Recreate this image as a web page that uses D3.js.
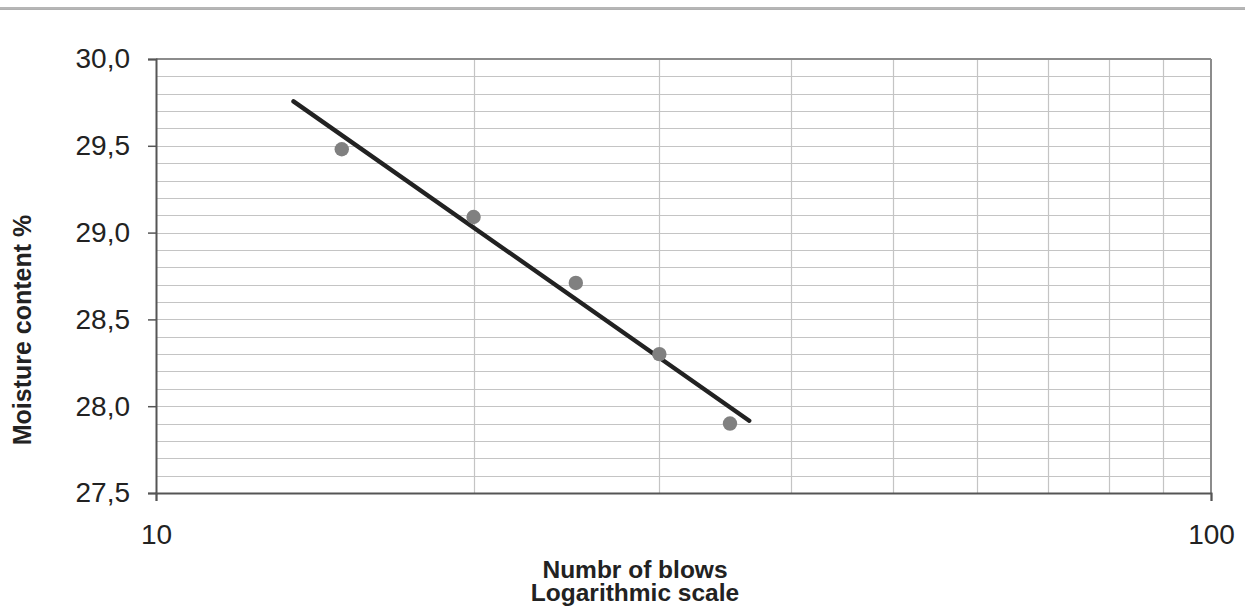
<!DOCTYPE html>
<html>
<head>
<meta charset="utf-8">
<script src="https://cdn.jsdelivr.net/npm/d3@7"></script>
<style>
  html, body { margin: 0; padding: 0; background: #fff; }
  svg { display: block; font-family: "Liberation Sans", Arial, sans-serif; }
</style>
</head>
<body>
<svg id="chart" width="1245" height="608"></svg>
<script>
// Liquid limit test: number of blows vs moisture content
const blows = [15, 20, 25, 30, 35];
const moisture = [29.48, 29.09, 28.71, 28.30, 27.90];
const trendRange = [13.5, 36.5];         // extent of the fitted line (blows)
const xTickLabels = [10, 100];
const yTickValues = [27.5, 28.0, 28.5, 29.0, 29.5, 30.0];
const xTitleLines = ["Numbr of blows", "Logarithmic scale"];
const yTitle = "Moisture content %";

const W = 1245, H = 608;
const margin = { left: 156, top: 59, right: W - 1211, bottom: H - 493 };

const svg = d3.select("#chart");

const x = d3.scaleLog().domain([10, 100]).range([margin.left, W - margin.right]);
const y = d3.scaleLinear().domain([27.5, 30.0]).range([H - margin.bottom, margin.top]);

const fmt = v => d3.format(".1f")(v).replace(".", ",");

// thin double rule across the top of the page
svg.append("line")
  .attr("x1", 0).attr("x2", W).attr("y1", 8).attr("y2", 8)
  .attr("stroke", "#6e6e6e").attr("stroke-width", 1.2);
svg.append("line")
  .attr("x1", 0).attr("x2", W).attr("y1", 9.5).attr("y2", 9.5)
  .attr("stroke", "#b0b0b0").attr("stroke-width", 1);

// horizontal gridlines every 0.1
const hGrid = d3.range(27.6, 30.001, 0.1).map(v => +v.toFixed(1));
svg.append("g").selectAll("line").data(hGrid).join("line")
  .attr("x1", x(10)).attr("x2", x(100))
  .attr("y1", d => Math.round(y(d)) + 0.5).attr("y2", d => Math.round(y(d)) + 0.5)
  .attr("stroke", "#c4c4c4").attr("stroke-width", 1.2);

// vertical gridlines at 20..90
const vGrid = d3.range(20, 100, 10);
svg.append("g").selectAll("line").data(vGrid).join("line")
  .attr("x1", d => Math.round(x(d)) + 0.5).attr("x2", d => Math.round(x(d)) + 0.5)
  .attr("y1", y(30)).attr("y2", y(27.5))
  .attr("stroke", "#c4c4c4").attr("stroke-width", 1.2);

// plot frame: top and right in lighter grey
svg.append("line")
  .attr("x1", x(10)).attr("x2", x(100)).attr("y1", y(30)).attr("y2", y(30))
  .attr("stroke", "#8c8c8c").attr("stroke-width", 2);
svg.append("line")
  .attr("x1", x(100)).attr("x2", x(100)).attr("y1", y(30)).attr("y2", y(27.5))
  .attr("stroke", "#8c8c8c").attr("stroke-width", 2);

// y axis
const yAxis = d3.axisLeft(y).tickValues(yTickValues).tickFormat(fmt).tickSize(8).tickPadding(18);
const gy = svg.append("g").attr("transform", `translate(${x(10)},0)`).call(yAxis);
gy.select(".domain").attr("stroke", "#555").attr("stroke-width", 2);
gy.selectAll(".tick line").attr("stroke", "#555").attr("stroke-width", 1.5);
gy.selectAll(".tick text")
  .attr("font-size", 28).attr("fill", "#222")
  .attr("font-family", "Liberation Sans, Arial, sans-serif");

// x axis
const xAxis = d3.axisBottom(x).tickValues(xTickLabels).tickFormat(d3.format("d")).tickSize(8).tickPadding(23);
const gx = svg.append("g").attr("transform", `translate(0,${y(27.5)})`).call(xAxis);
gx.select(".domain").attr("stroke", "#555").attr("stroke-width", 2);
gx.selectAll(".tick line").attr("stroke", "#555").attr("stroke-width", 1.5);
gx.selectAll(".tick text")
  .attr("font-size", 28).attr("fill", "#222")
  .attr("font-family", "Liberation Sans, Arial, sans-serif");

// logarithmic trend line: least squares of moisture on log10(blows)
const lx = blows.map(b => Math.log10(b));
const mx = d3.mean(lx), my = d3.mean(moisture);
const slope = d3.sum(lx, (v, i) => (v - mx) * (moisture[i] - my)) / d3.sum(lx, v => (v - mx) ** 2);
const intercept = my - slope * mx;
const trend = trendRange.map(b => [b, intercept + slope * Math.log10(b)]);

svg.append("path")
  .datum(trend)
  .attr("d", d3.line().x(d => x(d[0])).y(d => y(d[1])))
  .attr("fill", "none").attr("stroke", "#222").attr("stroke-width", 4.4)
  .attr("stroke-linecap", "round");

// measured points
svg.append("g").selectAll("circle").data(blows).join("circle")
  .attr("cx", d => x(d)).attr("cy", (d, i) => y(moisture[i]))
  .attr("r", 7.2).attr("fill", "#808080");

// x axis title, two lines in one block
const xt = svg.append("text")
  .attr("x", 635).attr("y", 578)
  .attr("text-anchor", "middle").attr("font-weight", "bold").attr("font-size", 24.5).attr("fill", "#222");
xt.selectAll("tspan").data(xTitleLines).join("tspan")
  .attr("x", 635).attr("dy", (d, i) => i === 0 ? 0 : 23)
  .text(d => d);

// y axis title
svg.append("text")
  .attr("transform", "translate(31,330) rotate(-90)")
  .attr("text-anchor", "middle").attr("font-weight", "bold").attr("font-size", 25).attr("fill", "#222")
  .text(yTitle);
</script>
</body>
</html>
